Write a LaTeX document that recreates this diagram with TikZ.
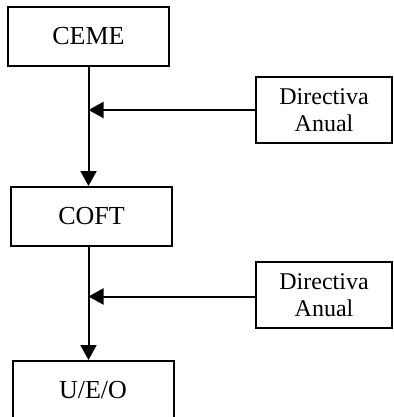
\documentclass[tikz,border=0pt]{standalone}
\usepackage{fontspec}
\setmainfont{Liberation Serif}
\usetikzlibrary{arrows.meta,positioning}
\tikzset {>={Triangle[length=15pt,width=16pt]}}
\tikzset{unit/.style={draw,line width=2pt,minimum width=161pt,minimum height=59pt,
    inner sep=0pt,font=\fontsize{26}{30}\selectfont},
  directiva/.style={draw,line width=2pt,minimum width=136pt,minimum height=66pt,
    inner sep=0pt,align=center,font=\fontsize{24}{27}\selectfont}}

\begin{document}
\begin{tikzpicture}[x=1pt,y=-1pt]
\useasboundingbox (0,0) rectangle (393,417);
\clip (0,0) rectangle (393,417);
\node[unit] (ceme) at (88.5,36.5) {CEME};
\node[unit] (coft) at (91.5,216.5) {COFT};
\node[unit] (ueo) at (93,390.5) {U/E/O};
\node[directiva] (dir1) at (324,110) {Directiva\\Anual};
\node[directiva] (dir2) at (324,295) {Directiva\\Anual};

\draw[line width=2pt,->] (ceme.south) -- (ceme.south |- coft.north);
\draw[line width=2pt,->] (ceme.south |- coft.south) -- (ceme.south |- ueo.north);
\draw[line width=2pt,->] (dir1.west) -- (dir1.west -| ceme.south);
\draw[line width=2pt,->] ([yshift=-1.5pt]dir2.west) -- ([yshift=-1.5pt]dir2.west -| ceme.south);
\end{tikzpicture}
\end{document}
